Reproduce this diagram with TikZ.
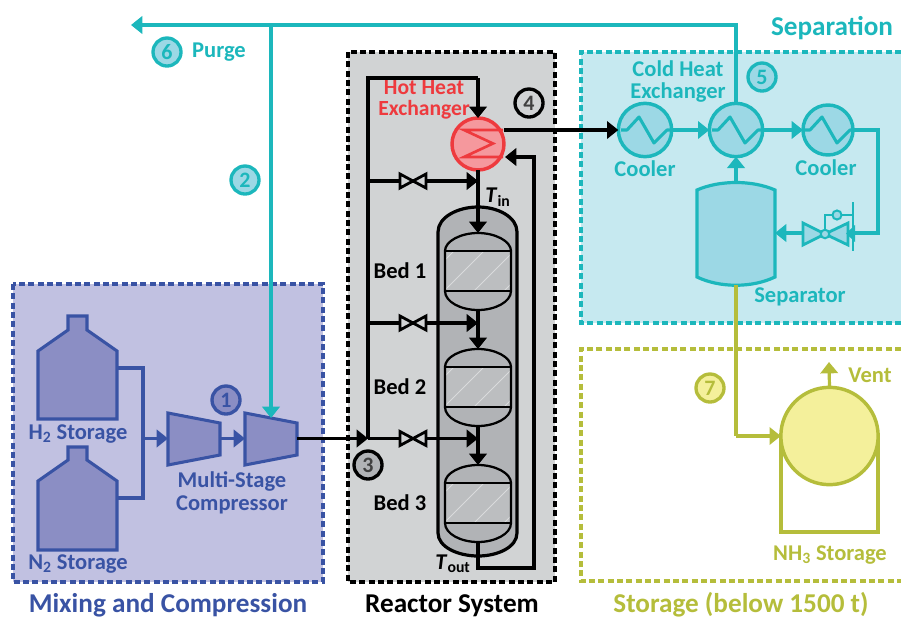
\documentclass[tikz,border=0pt]{standalone}
\usepackage{fontspec}
\setmainfont{Carlito}
\usetikzlibrary{arrows.meta}
\definecolor{bluS}{HTML}{3953A4}
\definecolor{bluB}{HTML}{C1C1E1}
\definecolor{bluF}{HTML}{8B8EC4}
\definecolor{teaS}{HTML}{1CB7BC}
\definecolor{teaB}{HTML}{C6E9F0}
\definecolor{teaF}{HTML}{9CD8E5}
\definecolor{redS}{HTML}{EE3A3E}
\definecolor{redF}{HTML}{F5989D}
\definecolor{oliS}{HTML}{B5BD3B}
\definecolor{oliF}{HTML}{F4F09B}
\definecolor{graB}{HTML}{D1D3D4}
\definecolor{graV}{HTML}{B1B3B6}
\definecolor{graH}{HTML}{BCBEC0}
\tikzset{
  x=0.75pt,y=-0.75pt,
  flow/.style={line width=2.4pt,line cap=butt,line join=miter},
  head/.style={-{Triangle[length=8.5pt,width=13pt]}},
  hd/.style={font=\bfseries\fontsize{20.4}{22}\selectfont,inner sep=0pt},
  lb/.style={font=\bfseries\fontsize{16.9}{16.8}\selectfont,inner sep=0pt,align=center},
  num/.style={circle,line width=2.5pt,minimum size=21pt,inner sep=0pt,font=\bfseries\fontsize{16.5}{17}\selectfont},
  hx/.style={circle,line width=2.6pt,inner sep=0pt,outer sep=0pt},
  boxline/.style={line width=2.3pt,dash pattern=on 4.6pt off 2.4pt},
  bed/.pic={
    \coordinate (-top) at (0,0);
    \coordinate (-bot) at (0,77);
    \begin{scope}
      \clip (-33,18) rectangle (33,58);
      \fill[graH] (-33,18) rectangle (33,58);
      \foreach \d in {-44,-14,16,46}
        \draw[white!45!graH,line width=0.6pt] (\d-20,58) -- (\d+20,18);
    \end{scope}
    \draw[black,line width=1.7pt] (-33,18) .. controls (-33,8) and (-17,0) .. (0,0)
      .. controls (17,0) and (33,8) .. (33,18) -- (33,58)
      .. controls (33,69) and (17,77) .. (0,77)
      .. controls (-17,77) and (-33,69) .. (-33,58) -- cycle;
    \draw[black,line width=1.7pt] (-33,18) -- (33,18) (-33,58) -- (33,58);
  },
  valve/.pic={
    \draw[black,fill=graB,line width=2.1pt,line join=miter] (-13,-7) -- (0,0) -- (-13,7) -- cycle;
    \draw[black,fill=graB,line width=2.1pt,line join=miter] (13,-7) -- (0,0) -- (13,7) -- cycle;
  },
  zig/.pic={
    \draw[teaS,line width=2.3pt,line join=round] (-24,0) -- (-18,0) -- (-6,-13) -- (9,13) -- (22,0) -- (25,0);
  }
}
\begin{document}
\begin{tikzpicture}
\useasboundingbox (0,0) rectangle (901,618);
% ---- regions
\fill[bluB] (13,284) rectangle (323,582);
\draw[bluS,boxline] (13,284) rectangle (323,582);
\fill[graB] (348,52) rectangle (555,582);
\draw[black,boxline] (348,52) rectangle (555,582);
\fill[teaB] (581,52) rectangle (901,323);
\draw[teaS,boxline] (901,52) -- (581,52) -- (581,323) -- (901,323);
\draw[oliS,boxline] (901,349) -- (581,349) -- (581,581) -- (901,581);
% ---- region titles
\node[hd,text=bluS] (tMix) at (168,605.5) {Mixing and Compression};
\node[hd,text=black] (tRea) at (452,605.5) {Reactor System};
\node[hd,text=oliS] (tSto) at (741,604.3) {Storage (below 1500 t)};
\node[hd,text=teaS] (tSep) at (832,28) {Separation};
% ---- storage tanks
\draw[bluS,fill=bluF,line width=2.3pt,line join=miter]
  (38,419) -- (38,351) -- (68,330) -- (68,316) -- (87,316) -- (87,330) -- (117,351) -- (117,419) -- cycle;
\draw[bluS,fill=bluF,line width=2.3pt,line join=miter]
  (38,550) -- (38,481) -- (68,460) -- (68,447) -- (87,447) -- (87,460) -- (117,481) -- (117,550) -- cycle;
\coordinate (h2out) at (117,368);
\coordinate (n2out) at (117,498);
\coordinate (mix) at (143,438.5);
\coordinate (c1in) at (168,438.5);
\coordinate (c1out) at (220,438.5);
\coordinate (c2in) at (245,438.5);
\coordinate (c2top) at (271,418);
\coordinate (c2out) at (297,438.5);
\draw[bluS,flow] (h2out) -| (mix) |- (n2out);
\draw[bluS,fill=bluF,line width=2.3pt,line join=miter] (168,413) -- (220,423) -- (220,455) -- (168,465) -- cycle;
\draw[bluS,fill=bluF,line width=2.3pt,line join=miter] (245,413) -- (297,423) -- (297,455) -- (245,465) -- cycle;
\draw[bluS,flow,head] (mix) -- (c1in);
\draw[bluS,flow,head] (c1out) -- (c2in);
\node[lb,text=bluS] (lH) at (78,434) {H\textsubscript{2} Storage};
\node[lb,text=bluS] (lN) at (78,564) {N\textsubscript{2} Storage};
\node[lb,text=bluS] (lC) at (232,493) {Multi-Stage\\Compressor};
\node[num,draw=bluS,fill=bluF,text=bluS] (n1) at (226,400) {1};
% ---- reactor vessel
\draw[black,fill=graV,line width=2.4pt] (438,533) -- (438,232)
  .. controls (438,217) and (458,207) .. (478,207)
  .. controls (498,207) and (517,217) .. (517,232) -- (517,533)
  .. controls (517,547) and (498,556) .. (478,556)
  .. controls (458,556) and (438,547) .. (438,533) -- cycle;
\pic (b1) at (478,233) {bed};
\pic (b2) at (478,349) {bed};
\pic (b3) at (478,465) {bed};
% ---- hot exchanger
\node[hx,draw=redS,fill=redF,minimum size=39pt] (hot) at (478,144) {};
\draw[redS,line width=2pt,line join=miter] (503,130) -- (464,130) -- (493,143.5) -- (464,157) -- (503,157);
% ---- reactor piping
\coordinate (feed) at (368,438.5);
\coordinate (top) at (368,78);
\coordinate (t1) at (368,181);
\coordinate (t2) at (368,323);
\coordinate (m1) at (478,181);
\coordinate (m2) at (478,323);
\coordinate (m3) at (478,438.5);
\coordinate (retur) at (534,568);
\coordinate (hotin) at (505,157);
\draw[black,flow,head] (c2out) -- (feed);
\draw[black,flow] (feed) -- (top) -- (478,78);
\draw[black,flow,head] (478,78) -- (hot.north);
\draw[black,flow,head] (hot.south) -- (b1-top);
\draw[black,flow,head] (b1-bot) -- (b2-top);
\draw[black,flow,head] (b2-bot) -- (b3-top);
\draw[black,flow,head] (t1) -- (m1);
\draw[black,flow,head] (t2) -- (m2);
\draw[black,flow,head] (feed) -- (m3);
\draw[black,flow,head] (b3-bot) |- (retur) -- (534,157) -- (hotin);
\pic at (413,181) {valve};
\pic at (413,323) {valve};
\pic at (413,438.5) {valve};
\node[lb,text=black] (lB1) at (400,271) {Bed 1};
\node[lb,text=black] (lB2) at (400,387) {Bed 2};
\node[lb,text=black] (lB3) at (400,503) {Bed 3};
\node[lb,text=black] (lTi) at (498,197) {\textit{T}\textsubscript{in}};
\node[lb,text=black] (lTo) at (453,564) {\textit{T}\textsubscript{out}};
\node[lb,text=redS,font=\bfseries\fontsize{16.2}{15.4}\selectfont] (lHot) at (424,100) {Hot Heat\\Exchanger};
\node[num,draw=black,fill=graB,text=black!75] (n4) at (529,103) {4};
\node[num,draw=black,fill=graV,text=black!75] (n3) at (368,465) {3};
% ---- separation
\node[hx,draw=teaS,fill=teaF,minimum size=40pt] (cool1) at (645,130) {};
\node[hx,draw=teaS,fill=teaF,minimum size=40pt] (cold) at (736,130) {};
\node[hx,draw=teaS,fill=teaF,minimum size=37.5pt] (cool2) at (828,130) {};
\pic at (645,130) {zig};
\pic at (736,130) {zig};
\pic at (828,130) {zig};
\draw[teaS,fill=teaF,line width=2.4pt] (697,190) .. controls (720,180) and (752,180) .. (775,190) -- (775,277)
  .. controls (752,288) and (720,288) .. (697,277) -- cycle;
\coordinate (septop) at (736,183);
\coordinate (sepbot) at (736,285);
\coordinate (sepin) at (775,233);
\coordinate (vin) at (853,233);
\coordinate (vout) at (803,233);
\coordinate (purgeend) at (131,25);
\coordinate (purgejn) at (271,25);
\coordinate (coldup) at (736,25);
\coordinate (rt) at (878,130);
\coordinate (rb) at (878,233);
\draw[black,flow,head] (hot.east |- 0,130) -- (cool1.west);
\draw[teaS,flow,head] (cool1.east) -- (cold.west);
\draw[teaS,flow,head] (cold.east) -- (cool2.west);
\draw[teaS,flow,head] (septop) -- (cold.south);
\draw[teaS,flow] (cool2.east) -- (rt) -- (rb) -- (vin);
\draw[teaS,flow,head] (vout) -- (sepin);
% control valve
\draw[teaS,line width=2.1pt] (853,202) -- (853,251);
\draw[teaS,line width=2.1pt,fill=teaF,line join=miter] (803,223) -- (825,234) -- (803,245) -- cycle;
\draw[teaS,line width=2.1pt,fill=teaF,line join=miter] (848,223) -- (825,234) -- (848,245) -- cycle;
\fill[teaS] (846,233.5) -- (855,225) -- (855,242) -- cycle;
\draw[teaS,line width=1.7pt] (825,234) -- (825,215) -- (853,215);
\draw[teaS,line width=1.5pt,fill=teaF] (825,234) circle (3.2pt);
\draw[teaS,line width=1.5pt,fill=teaF] (837,215) circle (3.4pt);
% top purge
\draw[teaS,flow] (cold.north) -- (coldup) -- (purgejn);
\draw[teaS,flow,head] (purgejn) -- (purgeend);
\draw[teaS,flow,head] (purgejn) -- (c2top);
\node[lb,text=teaS,font=\bfseries\fontsize{16.9}{16}\selectfont] (lCold) at (678,81.5) {Cold Heat\\Exchanger};
\node[lb,text=teaS] (lC1) at (645,169) {Cooler};
\node[lb,text=teaS] (lC2) at (826,168) {Cooler};
\node[lb,text=teaS] (lSep) at (800,297) {Separator};
\node[lb,text=teaS] (lPur) at (219,52) {Purge};
\node[num,draw=teaS,fill=teaF,text=teaS] (n5) at (762,77) {5};
\node[num,draw=teaS,fill=teaF,text=teaS] (n6) at (167,52) {6};
\node[num,draw=teaS,fill=teaF,text=teaS] (n2) at (245,180) {2};
% ---- storage
\coordinate (sl) at (781,436);
\coordinate (sr) at (878,436);
\coordinate (sbl) at (781,532);
\coordinate (sbr) at (878,532);
\coordinate (olc) at (736,436);
\coordinate (ventend) at (829,362);
\draw[oliS,line width=2.3pt,line join=miter] (sl) -- (sbl) -- (sbr) -- (sr);
\node[hx,draw=oliS,fill=oliF,minimum size=73pt] (nh3) at (829.5,436) {};
\draw[oliS,flow] (sepbot) -- (olc);
\draw[oliS,flow,head] (olc) -- (nh3.west);
\draw[oliS,flow,head] (nh3.north) -- (ventend);
\node[lb,text=oliS] (lV) at (870,375) {Vent};
\node[lb,text=oliS] (lNH) at (830,555) {NH\textsubscript{3} Storage};
\node[num,draw=oliS,fill=oliF,text=oliS] (n7) at (710,388) {7};
\end{tikzpicture}
\end{document}
